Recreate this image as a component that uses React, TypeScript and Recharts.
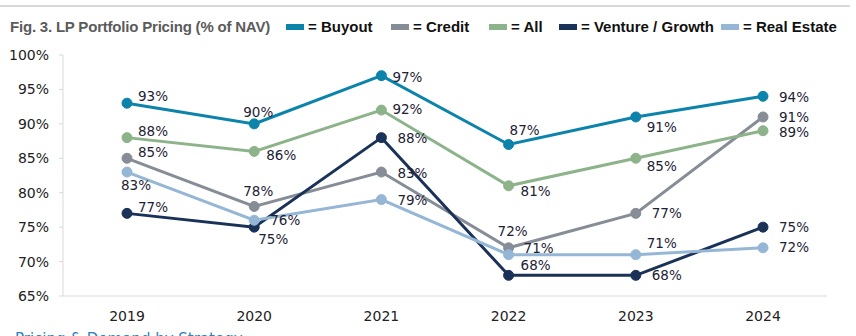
import { LineChart, Line, XAxis, YAxis } from "recharts";

const YEARS = ["2019", "2020", "2021", "2022", "2023", "2024"];
const BUYOUT = [93, 90, 97, 87, 91, 94];
const CREDIT = [85, 78, 83, 72, 77, 91];
const ALL = [88, 86, 92, 81, 85, 89];
const VENTURE = [77, 75, 88, 68, 68, 75];
const REAL_ESTATE = [83, 76, 79, 71, 71, 72];
const Y_TICKS = [65, 70, 75, 80, 85, 90, 95, 100];

const SERIES = [
  { key: "buyout", name: "Buyout", color: "#0b83ab", values: BUYOUT },
  { key: "credit", name: "Credit", color: "#878d96", values: CREDIT },
  { key: "all", name: "All", color: "#8db38b", values: ALL },
  { key: "venture", name: "Venture / Growth", color: "#1b3258", values: VENTURE },
  { key: "realEstate", name: "Real Estate", color: "#95b7d5", values: REAL_ESTATE },
];

// label nudges (label centre relative to the point), like hand-placed Excel labels
const LABEL_NUDGE: Record<string, [number, number][]> = {
  buyout: [[26, -7], [4, -12], [26, 1], [16, -15], [26, 10], [31, 1]],
  credit: [[26, -6], [4, -15], [31, 1], [4, -17], [31, 0], [31, 0]],
  all: [[26, -7], [27, 4], [26, -1], [27, 5], [26, 8], [31, 1]],
  venture: [[26, -6], [19, 12], [31, 0], [27, -10], [31, 0], [31, 0]],
  realEstate: [[9, 13], [31, 0], [31, 0], [30, -7], [26, -12], [31, -1]],
};

const LEGEND_LEFT = [286, 391, 489, 559, 721];

const chartData = YEARS.map((year, i) => {
  const row: Record<string, string | number> = { year };
  SERIES.forEach((s) => (row[s.key] = s.values[i]));
  return row;
});

const CHART_FONT = "'DejaVu Sans', Verdana, sans-serif";
const HEAD_FONT = "'Liberation Sans Narrow', 'Arial Narrow', 'Liberation Sans', sans-serif";

function makeLabel(seriesKey: string) {
  return (props: any) => {
    const { x, y, index, value } = props;
    const [dx, dy] = LABEL_NUDGE[seriesKey][index] ?? [0, 0];
    return (
      <text
        key={`${seriesKey}-${index}`}
        x={x + dx}
        y={y + dy}
        textAnchor="middle"
        dominantBaseline="central"
        fontSize={13.5}
        fontFamily={CHART_FONT}
        fill="#1d2235"
      >
        {value}%
      </text>
    );
  };
}

export default function App() {
  return (
    <div
      style={{
        position: "relative",
        width: 856,
        height: 336,
        overflow: "hidden",
        background: "#fff",
      }}
    >
      <style>{`body{margin:0}`}</style>
      <div
        style={{
          position: "absolute",
          left: 0,
          top: 5,
          width: 850,
          height: 2,
          background: "#d9d9d9",
        }}
      />
      <div
        style={{
          position: "absolute",
          left: 10,
          top: 18,
          fontFamily: HEAD_FONT,
          fontWeight: 700,
          fontSize: 15,
          letterSpacing: -0.2,
          color: "#5b5b5b",
          whiteSpace: "nowrap",
        }}
      >
        Fig. 3. LP Portfolio Pricing (% of NAV)
      </div>
      {SERIES.map((s, i) => (
        <div
          key={s.key}
          style={{
            position: "absolute",
            left: LEGEND_LEFT[i],
            top: 18,
            display: "flex",
            alignItems: "center",
            fontFamily: HEAD_FONT,
            fontWeight: 700,
            fontSize: 15,
            color: "#111",
            whiteSpace: "nowrap",
          }}
        >
          <span
            style={{
              display: "inline-block",
              width: 18,
              height: 6,
              background: s.color,
              marginRight: 4,
            }}
          />
          = {s.name}
        </div>
      ))}

      <div style={{ position: "absolute", left: 0, top: 0 }}>
        <LineChart
          width={856}
          height={336}
          data={chartData}
          margin={{ top: 55, right: 29, bottom: 10, left: 8 }}
        >
          <XAxis
            dataKey="year"
            padding={{ left: 64, right: 64 }}
            axisLine={{ stroke: "#d9d9d9" }}
            tickLine={false}
            tick={{ fontSize: 14, fill: "#222", fontFamily: CHART_FONT }}
            tickMargin={9}
            height={30}
            interval={0}
          />
          <YAxis
            domain={[65, 100]}
            ticks={Y_TICKS}
            width={55}
            axisLine={{ stroke: "#d9d9d9" }}
            tickLine={{ stroke: "#d9d9d9" }}
            tickSize={4}
            tickMargin={10}
            tick={{ fontSize: 14, fill: "#222", fontFamily: CHART_FONT }}
            tickFormatter={(v) => `${v}%`}
            interval={0}
          />
          {SERIES.map((s) => (
            <Line
              key={s.key}
              dataKey={s.key}
              name={s.name}
              type="linear"
              stroke={s.color}
              strokeWidth={3}
              dot={{ r: 5, fill: s.color, stroke: s.color, strokeWidth: 1 }}
              activeDot={false}
              label={makeLabel(s.key)}
              isAnimationActive={false}
            />
          ))}
        </LineChart>
      </div>

      <div
        style={{
          position: "absolute",
          left: 15,
          top: 330,
          fontFamily: CHART_FONT,
          fontSize: 15,
          color: "#2f80c0",
          whiteSpace: "nowrap",
        }}
      >
        Pricing &amp; Demand by Strategy
      </div>
    </div>
  );
}
